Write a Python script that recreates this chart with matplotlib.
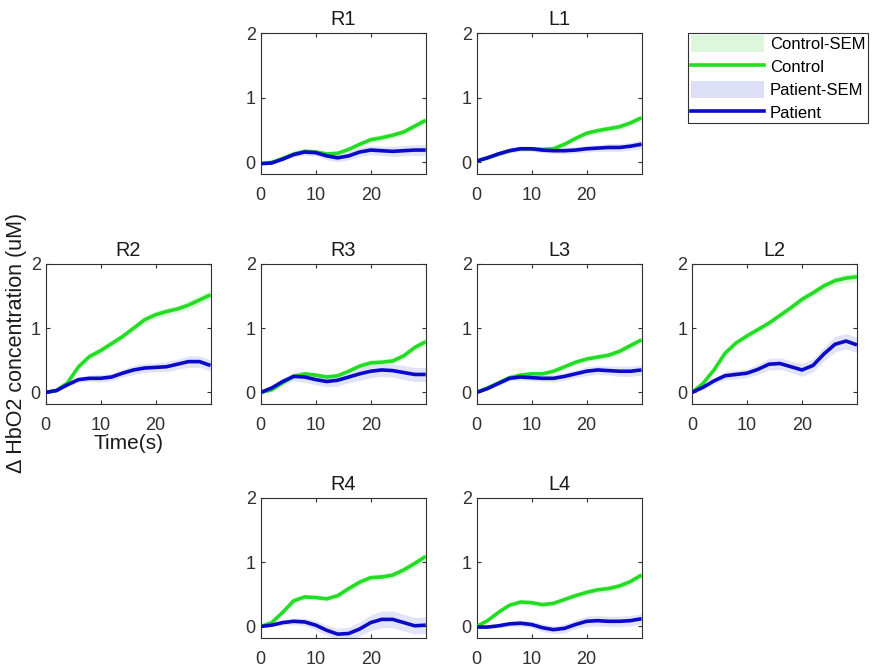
import matplotlib
matplotlib.use("Agg")
import matplotlib.pyplot as plt
from matplotlib.patches import Patch
from matplotlib.lines import Line2D
import numpy as np

plt.rcParams['font.family'] = ['Liberation Sans', 'DejaVu Sans']

time_s = [0, 2, 4, 6, 8, 10, 12, 14, 16, 18, 20, 22, 24, 26, 28, 30]

panel_names = ["R1", "L1", "R2", "R3", "L3", "L2", "R4", "L4"]

control = {
    "R1": [-0.02, 0.00, 0.06, 0.13, 0.17, 0.16, 0.13, 0.14, 0.20, 0.28, 0.35, 0.38, 0.42, 0.47, 0.56, 0.65],
    "L1": [0.02, 0.07, 0.13, 0.18, 0.21, 0.21, 0.20, 0.21, 0.28, 0.37, 0.45, 0.49, 0.52, 0.55, 0.61, 0.69],
    "R2": [0.00, 0.03, 0.15, 0.40, 0.56, 0.65, 0.76, 0.87, 1.00, 1.13, 1.21, 1.26, 1.30, 1.36, 1.44, 1.52],
    "R3": [0.00, 0.04, 0.15, 0.25, 0.29, 0.27, 0.24, 0.26, 0.33, 0.41, 0.46, 0.47, 0.49, 0.57, 0.70, 0.79],
    "L3": [0.00, 0.07, 0.15, 0.23, 0.27, 0.29, 0.29, 0.33, 0.40, 0.47, 0.52, 0.55, 0.58, 0.64, 0.73, 0.82],
    "L2": [0.00, 0.14, 0.35, 0.61, 0.77, 0.88, 0.98, 1.08, 1.20, 1.32, 1.45, 1.55, 1.66, 1.74, 1.78, 1.80],
    "R4": [0.00, 0.06, 0.22, 0.40, 0.46, 0.45, 0.43, 0.48, 0.59, 0.69, 0.76, 0.77, 0.80, 0.88, 0.98, 1.09],
    "L4": [0.00, 0.09, 0.22, 0.33, 0.38, 0.37, 0.34, 0.36, 0.42, 0.48, 0.53, 0.57, 0.59, 0.63, 0.70, 0.80],
}
patient = {
    "R1": [-0.02, -0.01, 0.05, 0.12, 0.16, 0.15, 0.10, 0.07, 0.10, 0.16, 0.19, 0.18, 0.17, 0.18, 0.19, 0.19],
    "L1": [0.02, 0.07, 0.13, 0.18, 0.21, 0.21, 0.19, 0.18, 0.18, 0.19, 0.21, 0.22, 0.23, 0.23, 0.25, 0.28],
    "R2": [0.00, 0.03, 0.12, 0.20, 0.22, 0.22, 0.24, 0.30, 0.35, 0.38, 0.39, 0.40, 0.44, 0.48, 0.48, 0.42],
    "R3": [0.00, 0.07, 0.17, 0.25, 0.24, 0.20, 0.17, 0.19, 0.24, 0.29, 0.33, 0.35, 0.34, 0.31, 0.28, 0.28],
    "L3": [0.00, 0.06, 0.14, 0.22, 0.24, 0.23, 0.22, 0.22, 0.25, 0.29, 0.33, 0.35, 0.34, 0.33, 0.33, 0.35],
    "L2": [0.00, 0.08, 0.18, 0.26, 0.28, 0.30, 0.36, 0.44, 0.45, 0.40, 0.35, 0.42, 0.60, 0.75, 0.80, 0.74],
    "R4": [0.00, 0.02, 0.06, 0.08, 0.07, 0.02, -0.06, -0.12, -0.11, -0.04, 0.06, 0.11, 0.11, 0.06, 0.01, 0.02],
    "L4": [-0.01, -0.01, 0.01, 0.04, 0.05, 0.03, -0.02, -0.05, -0.03, 0.03, 0.08, 0.09, 0.08, 0.08, 0.09, 0.12],
}
control_sem = {
    "R1": [0.01, 0.02, 0.03, 0.03, 0.04, 0.04, 0.04, 0.04, 0.04, 0.04, 0.05, 0.05, 0.05, 0.05, 0.05, 0.05],
    "L1": [0.01, 0.02, 0.03, 0.03, 0.03, 0.03, 0.04, 0.04, 0.04, 0.04, 0.04, 0.05, 0.05, 0.05, 0.05, 0.05],
    "R2": [0.01, 0.02, 0.03, 0.04, 0.05, 0.05, 0.05, 0.05, 0.05, 0.06, 0.06, 0.06, 0.06, 0.07, 0.07, 0.07],
    "R3": [0.01, 0.02, 0.03, 0.03, 0.04, 0.04, 0.04, 0.04, 0.04, 0.05, 0.05, 0.05, 0.05, 0.05, 0.05, 0.06],
    "L3": [0.01, 0.02, 0.03, 0.03, 0.04, 0.04, 0.04, 0.04, 0.04, 0.04, 0.05, 0.05, 0.05, 0.05, 0.05, 0.05],
    "L2": [0.01, 0.02, 0.03, 0.04, 0.04, 0.05, 0.05, 0.05, 0.05, 0.05, 0.06, 0.06, 0.06, 0.06, 0.07, 0.07],
    "R4": [0.01, 0.02, 0.03, 0.04, 0.04, 0.04, 0.04, 0.04, 0.05, 0.05, 0.05, 0.05, 0.05, 0.06, 0.06, 0.06],
    "L4": [0.01, 0.02, 0.03, 0.03, 0.04, 0.04, 0.04, 0.04, 0.04, 0.04, 0.05, 0.05, 0.05, 0.05, 0.05, 0.05],
}
patient_sem = {
    "R1": [0.01, 0.02, 0.03, 0.04, 0.05, 0.05, 0.06, 0.06, 0.06, 0.07, 0.07, 0.07, 0.08, 0.08, 0.08, 0.09],
    "L1": [0.01, 0.02, 0.03, 0.03, 0.04, 0.04, 0.04, 0.04, 0.05, 0.05, 0.05, 0.05, 0.06, 0.06, 0.06, 0.07],
    "R2": [0.01, 0.02, 0.03, 0.04, 0.05, 0.06, 0.06, 0.06, 0.07, 0.07, 0.07, 0.08, 0.08, 0.09, 0.09, 0.09],
    "R3": [0.01, 0.03, 0.05, 0.07, 0.08, 0.08, 0.08, 0.09, 0.09, 0.10, 0.10, 0.10, 0.10, 0.11, 0.11, 0.11],
    "L3": [0.01, 0.02, 0.03, 0.04, 0.05, 0.05, 0.05, 0.06, 0.06, 0.06, 0.07, 0.07, 0.07, 0.08, 0.08, 0.08],
    "L2": [0.01, 0.03, 0.05, 0.06, 0.07, 0.07, 0.08, 0.09, 0.09, 0.09, 0.10, 0.10, 0.11, 0.12, 0.12, 0.12],
    "R4": [0.01, 0.02, 0.04, 0.05, 0.06, 0.07, 0.08, 0.09, 0.10, 0.11, 0.12, 0.13, 0.13, 0.13, 0.13, 0.13],
    "L4": [0.01, 0.02, 0.03, 0.04, 0.05, 0.05, 0.06, 0.06, 0.07, 0.07, 0.08, 0.08, 0.08, 0.08, 0.08, 0.08],
}

x_ticks = [0, 10, 20]
y_ticks = [0, 1, 2]

W, H = 893, 671
fig = plt.figure(figsize=(W / 100, H / 100), dpi=100)

col_left = [45.5, 260.7, 476.5, 692.0]
ax_w = 165.0
rows = [(33, 174), (264, 404), (498, 638)]
layout = {
    "R1": (0, 1), "L1": (0, 2),
    "R2": (1, 0), "R3": (1, 1), "L3": (1, 2), "L2": (1, 3),
    "R4": (2, 1), "L4": (2, 2),
}

green = '#22dd22'
blue = '#0a0ac8'
green_fill = '#ddf7dd'
blue_fill = '#dcdff6'
edge = '#303030'
LW = 2.6

t = np.array(time_s)
for name in panel_names:
    r, c = layout[name]
    top, bot = rows[r]
    left = col_left[c]
    ax = fig.add_axes([left / W, 1 - bot / H, ax_w / W, (bot - top) / H])
    cm = np.array(control[name]); cs = np.array(control_sem[name])
    pm = np.array(patient[name]); ps = np.array(patient_sem[name])
    ax.fill_between(t, cm - cs, cm + cs, color=green_fill, lw=0, zorder=1)
    ax.fill_between(t, pm - ps, pm + ps, color=blue_fill, lw=0, zorder=1, alpha=0.85)
    ax.plot(t, cm, color=green, lw=LW, zorder=3, solid_capstyle='butt',
            solid_joinstyle='round')
    ax.plot(t, pm, color=blue, lw=LW, zorder=4, solid_capstyle='butt',
            solid_joinstyle='round')
    ax.set_xlim(0, 30)
    ax.set_ylim(-0.18, 2)
    ax.set_xticks(x_ticks)
    ax.set_yticks(y_ticks)
    ax.tick_params(direction='in', length=3, width=0.8, top=True, right=True,
                   labelsize=13, colors=edge)
    ax.tick_params(axis='x', pad=9.5)
    ax.tick_params(axis='y', pad=3.5)
    for s in ax.spines.values():
        s.set_color(edge)
        s.set_linewidth(0.8)
    ax.set_title(name, fontsize=14.3, color='#1a1a1a', pad=6)
    if name == "R2":
        ax.set_xlabel("Time(s)", fontsize=15, color='#1a1a1a', labelpad=0)

fig.text(17 / W, 1 - 343 / H, "Δ HbO2 concentration (uM)", rotation=90,
         ha='center', va='center', fontsize=15.5, color='#1a1a1a')

handles = [
    Patch(facecolor=green_fill, edgecolor='none'),
    Line2D([0], [0], color=green, lw=LW),
    Patch(facecolor=blue_fill, edgecolor='none'),
    Line2D([0], [0], color=blue, lw=LW),
]
labels = ["Control-SEM", "Control", "Patient-SEM", "Patient"]
leg = fig.legend(handles, labels, loc='upper left',
                 bbox_to_anchor=(688 / W, 1 - 33 / H), borderaxespad=0,
                 fontsize=12, handlelength=4.4, handleheight=1.15,
                 handletextpad=0.35, labelspacing=0.35, borderpad=0.15,
                 fancybox=False, framealpha=1)
leg.get_frame().set_edgecolor(edge)
leg.get_frame().set_linewidth(0.8)

fig.savefig("out.png", dpi=100)
